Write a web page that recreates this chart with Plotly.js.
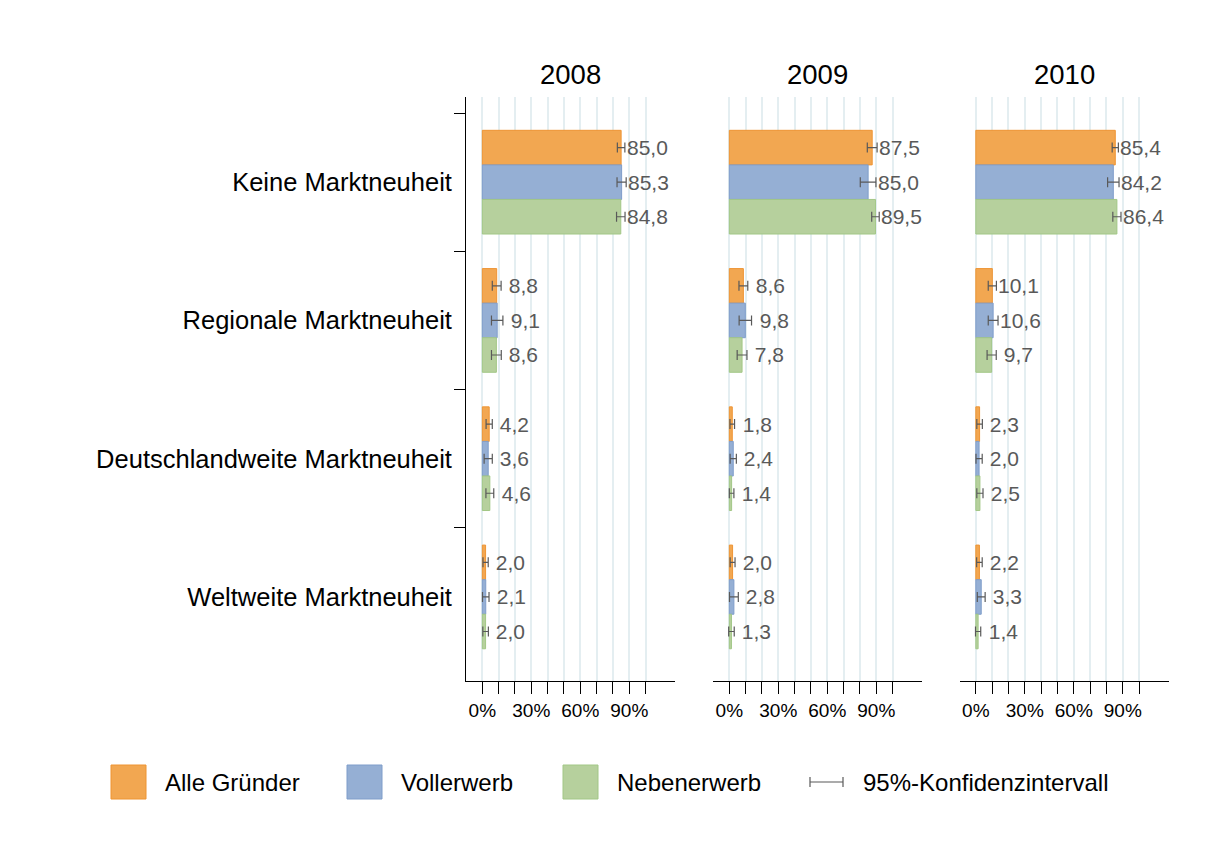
<!DOCTYPE html>
<html><head><meta charset="utf-8">
<script src="https://cdn.plot.ly/plotly-3.0.1.min.js"></script>
<style>html,body{margin:0;padding:0;background:#fff}#chart{width:1215px;height:859px}</style>
</head><body><div id="chart"></div>
<script>
const years = ["2008", "2009", "2010"];
const categories = ["Keine Marktneuheit", "Regionale Marktneuheit", "Deutschlandweite Marktneuheit", "Weltweite Marktneuheit"];
const seriesNames = ["Alle Gründer", "Vollerwerb", "Nebenerwerb"];
const ciLabel = "95%-Konfidenzintervall";
const xTickVals = [0, 10, 20, 30, 40, 50, 60, 70, 80, 90, 100];
const xTickText = ["0%", "", "", "30%", "", "", "60%", "", "", "90%", ""];

// values (%) per year, per series, in category order
const alle2008  = [85.0, 8.8, 4.2, 2.0];
const voll2008  = [85.3, 9.1, 3.6, 2.1];
const neben2008 = [84.8, 8.6, 4.6, 2.0];
const alle2009  = [87.5, 8.6, 1.8, 2.0];
const voll2009  = [85.0, 9.8, 2.4, 2.8];
const neben2009 = [89.5, 7.8, 1.4, 1.3];
const alle2010  = [85.4, 10.1, 2.3, 2.2];
const voll2010  = [84.2, 10.6, 2.0, 3.3];
const neben2010 = [86.4, 9.7, 2.5, 1.4];

// half widths of 95% confidence intervals (percentage points)
const ciAlle2008  = [2.3, 2.7, 1.9, 1.6];
const ciVoll2008  = [2.8, 3.5, 2.5, 2.0];
const ciNeben2008 = [2.6, 3.0, 2.4, 1.7];
const ciAlle2009  = [3.0, 2.7, 1.4, 1.5];
const ciVoll2009  = [4.8, 3.8, 1.9, 2.7];
const ciNeben2009 = [2.3, 3.0, 1.4, 1.7];
const ciAlle2010  = [1.9, 2.5, 1.7, 1.7];
const ciVoll2010  = [3.5, 3.0, 1.9, 2.4];
const ciNeben2010 = [2.5, 2.8, 1.9, 1.6];

const values = [[alle2008, voll2008, neben2008], [alle2009, voll2009, neben2009], [alle2010, voll2010, neben2010]];
const cis = [[ciAlle2008, ciVoll2008, ciNeben2008], [ciAlle2009, ciVoll2009, ciNeben2009], [ciAlle2010, ciVoll2010, ciNeben2010]];

const fillColors = ["#F2A751", "#95AFD4", "#B6D09D"];
const lineColors = ["#EE9433", "#7F9DCA", "#A2C786"];
const ciColor = "#595959";
const labelColor = "#595959";
const FONT = "Liberation Sans, Arial, sans-serif";

const W = 1215, H = 859;
const xDomains = [[466 / W, 675 / W], [713 / W, 922 / W], [959.5 / W, 1168.5 / W]];
const yDomain = [(H - 681) / H, (H - 97) / H];
const barOffsets = [-0.25, 0, 0.25];

function fmt(v) {
  let s = v.toFixed(1).replace(".", ",");
  if (s.length < 4) s = "\u00a0" + s;
  return s;
}

const traces = [];
const annotations = [];
const layout = {
  width: W, height: H,
  margin: {l: 0, r: 0, t: 0, b: 0},
  paper_bgcolor: "#fff", plot_bgcolor: "rgba(0,0,0,0)",
  barmode: "group", bargap: 0.25, bargroupgap: 0,
  showlegend: false,
  font: {family: FONT, color: "#000"},
  shapes: []
};

years.forEach((yr, k) => {
  const xa = "x" + (k ? k + 1 : "");
  const ya = "y" + (k ? k + 1 : "");
  const xKey = "xaxis" + (k ? k + 1 : "");
  const yKey = "yaxis" + (k ? k + 1 : "");
  layout[xKey] = {
    domain: xDomains[k], anchor: ya, range: [-10, 118],
    tickmode: "array", tickvals: xTickVals, ticktext: xTickText,
    ticks: "outside", ticklen: 12, tickwidth: 1, tickcolor: "#000",
    showline: true, linecolor: "#000", linewidth: 1,
    showgrid: true, gridcolor: "#E4EEF1", gridwidth: 2, zeroline: false,
    tickfont: {size: 19, color: "#000", family: FONT}, fixedrange: true
  };
  layout[yKey] = {
    domain: yDomain, anchor: xa, type: "category",
    categoryorder: "array", categoryarray: categories,
    range: [3.608, -0.616],
    tickson: "boundaries",
    ticks: k === 0 ? "outside" : "", ticklen: 11, tickwidth: 1, tickcolor: "#000",
    ticklabelstandoff: 8,
    showline: k === 0, linecolor: "#000", linewidth: 1,
    showticklabels: k === 0, showgrid: false, zeroline: false,
    tickfont: {size: 25.5, color: "#000", family: FONT}, fixedrange: true
  };
  seriesNames.forEach((name, s) => {
    traces.push({
      type: "bar", orientation: "h", name: name,
      x: values[k][s], y: categories,
      xaxis: xa, yaxis: ya,
      marker: {color: fillColors[s], line: {color: lineColors[s], width: 1}},
      error_x: {type: "data", array: cis[k][s], visible: true, color: ciColor, thickness: 1.2, width: 5},
      hoverinfo: "x+y"
    });
    values[k][s].forEach((v, i) => {
      annotations.push({
        xref: xa, yref: ya, x: v + cis[k][s][i], y: i + barOffsets[s],
        text: fmt(v), showarrow: false, xanchor: "left", yanchor: "middle",
        xshift: 0,
        font: {size: 21, color: labelColor, family: FONT}
      });
    });
  });
  annotations.push({
    xref: "paper", yref: "paper",
    x: (xDomains[k][0] + xDomains[k][1]) / 2, y: (H - 75) / H,
    text: yr, showarrow: false, xanchor: "center", yanchor: "middle",
    font: {size: 27.5, color: "#000", family: FONT}
  });
});

// legend (manual)
const legY = (H - 782) / H;
const swH = 34 / H;
const legSw = [111, 347, 563];
const legTx = [165, 401, 617];
seriesNames.forEach((name, s) => {
  layout.shapes.push({
    type: "rect", xref: "paper", yref: "paper",
    x0: legSw[s] / W, x1: (legSw[s] + 35) / W, y0: legY - swH / 2, y1: legY + swH / 2,
    fillcolor: fillColors[s], line: {color: lineColors[s], width: 1}
  });
  annotations.push({
    xref: "paper", yref: "paper", x: (legTx[s] - 2) / W, y: legY,
    text: name, showarrow: false, xanchor: "left", yanchor: "middle",
    font: {size: 24, color: "#000", family: FONT}
  });
});
const eL = 810 / W, eR = 843 / W, capH = 5 / H;
layout.shapes.push(
  {type: "line", xref: "paper", yref: "paper", x0: eL, x1: eR, y0: legY, y1: legY, line: {color: ciColor, width: 1.2}},
  {type: "line", xref: "paper", yref: "paper", x0: eL, x1: eL, y0: legY - capH, y1: legY + capH, line: {color: ciColor, width: 1.2}},
  {type: "line", xref: "paper", yref: "paper", x0: eR, x1: eR, y0: legY - capH, y1: legY + capH, line: {color: ciColor, width: 1.2}}
);
annotations.push({
  xref: "paper", yref: "paper", x: 861 / W, y: legY,
  text: ciLabel, showarrow: false, xanchor: "left", yanchor: "middle",
  font: {size: 24, color: "#000", family: FONT}
});

layout.annotations = annotations;
Plotly.newPlot("chart", traces, layout, {displayModeBar: false, staticPlot: true});
</script>
</body></html>
